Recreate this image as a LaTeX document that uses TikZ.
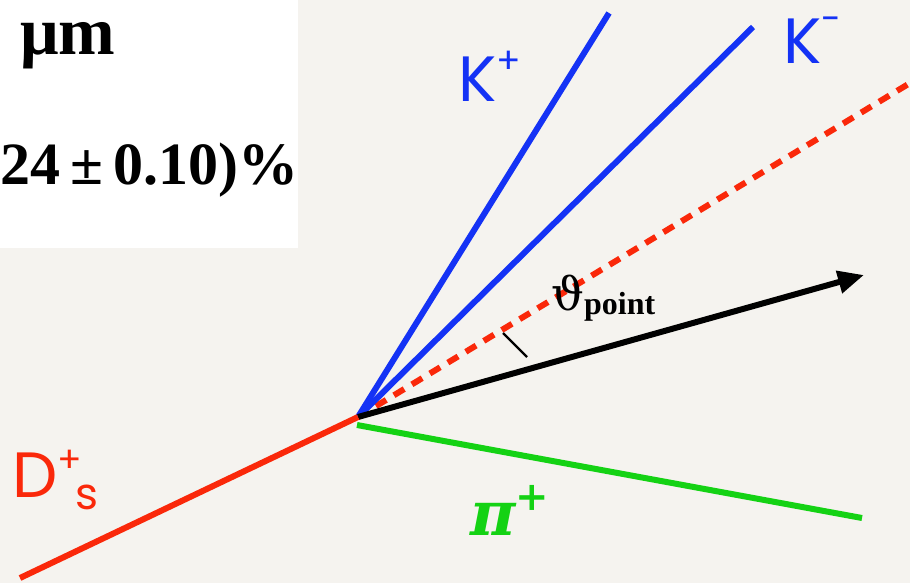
\documentclass[tikz,border=0pt]{standalone}
\usepackage{fontspec}
\usetikzlibrary{arrows.meta}
\newfontfamily\kfont{Poppins}
\newfontfamily\serifb{Liberation Serif}
\newfontfamily\dvs{DejaVu Serif}
\definecolor{bgc}{RGB}{245,243,239}
\definecolor{kblue}{RGB}{20,50,245}
\definecolor{dred}{RGB}{250,40,10}
\definecolor{pgreen}{RGB}{20,210,20}
\tikzset{
  trk/.style={line width=6pt},
  lbl/.style={inner sep=0pt, anchor=base west},
}
\begin{document}
\begin{tikzpicture}[x=1pt,y=-1pt]
\useasboundingbox (0,0) rectangle (910,583);
\fill[bgc] (0,0) rectangle (910,583);
\fill[white] (0,0) rectangle (298,248);
\node[lbl] (mu) at (20,55) {\fontsize{68}{72}\selectfont\bfseries\serifb μm};
\node[lbl] (val) at (0,184) {\fontsize{60}{64}\selectfont\bfseries\serifb 24\,±\,0.10)\%};
\coordinate (v) at (358,417);
\coordinate (ds) at (20,578);
\coordinate (kp) at (609,13);
\coordinate (km) at (753,27);
\coordinate (dd) at (915,80);
\coordinate (ar) at (864,275);
\coordinate (pi0) at (357,425);
\coordinate (pi1) at (862,518);
\coordinate (t0) at (503,333);
\coordinate (t1) at (527,357);
\draw[trk, dred, dash pattern=on 12pt off 9pt] (v) -- (dd);
\draw[trk, kblue] (v) -- (kp);
\draw[trk, kblue] (v) -- (km);
\draw[trk, pgreen] (pi0) -- (pi1);
\draw[trk, black, -{Triangle[length=26pt,width=22pt]}] (v) -- (ar);
\draw[trk, dred] (ds) -- (v);
\draw[line width=2.2pt] (t0) -- (t1);
\node[lbl, text=kblue] (lkp) at (458,102) {\fontsize{64}{66}\selectfont\kfont K\raisebox{0.45em}{\fontsize{36}{38}\selectfont +}};
\node[lbl, text=kblue] (lkm) at (783,64) {\fontsize{64}{66}\selectfont\kfont K\raisebox{0.5em}{\fontsize{36}{38}\selectfont -}};
\node[lbl, text=dred] (lds) at (12,497) {\fontsize{64}{66}\selectfont\kfont D\raisebox{0.38em}{\fontsize{36}{38}\selectfont +}\hspace{-0.1em}\raisebox{-0.2em}{\fontsize{44}{46}\selectfont s}};
\node[lbl, text=pgreen] (lpi) at (470,535) {\fontsize{62}{64}\selectfont\dvs\bfseries\itshape π\raisebox{0.4em}{\fontsize{40}{42}\selectfont\upshape +}};
\node[lbl] (lth) at (551,310) {\fontsize{46}{48}\selectfont\dvs ϑ\raisebox{-0.1em}{\fontsize{32}{34}\selectfont\bfseries\serifb point}};
\end{tikzpicture}
\end{document}
